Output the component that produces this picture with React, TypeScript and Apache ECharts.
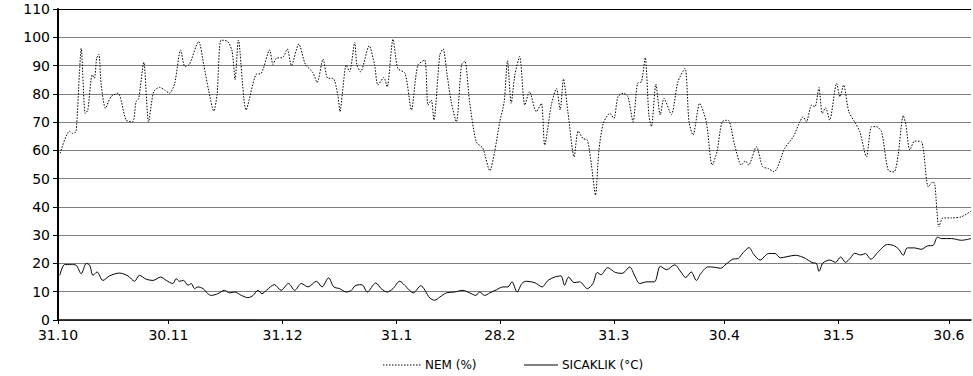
import React, { useEffect, useRef } from "react";
import * as echarts from "echarts";

// x positions are days counted from 31.10
const TICK_DAYS = [0, 30, 61, 92, 120, 151, 181, 212, 242];
const TICK_LABELS = ["31.10", "30.11", "31.12", "31.1", "28.2", "31.3", "30.4", "31.5", "30.6"];

const NEM_DAYS = [
  0.6, 3.1, 4, 4.9, 5.8, 6.3, 7.4, 8.1, 9.3, 9.9, 10.5, 11.1, 11.7, 12.9, 14.4, 16.3, 18.5, 20.3, 21.2, 21.9,
  23.3, 24.6, 26, 27.6, 29, 30.3, 31.7, 33.3, 34.5, 35.7, 38.2, 39.6, 40.9, 42.3, 43.2, 44.3, 46.1, 47.3, 48.1, 49,
  51.1, 53.8, 55.2, 57.5, 58.4, 59.3, 61.1, 62.3, 63.4, 65.4, 67.2, 69.2, 70.4, 72, 73.3, 74.7, 76, 76.6, 77.2, 78.3,
  79.2, 80.6, 81.2, 82.2, 84.5, 86, 86.9, 88.5, 89.4, 91, 92.3, 94.3, 96, 97.7, 99.6, 100.5, 101.4, 102.1, 103.7, 104.6,
  105.7, 106.8, 108.2, 109.6, 110.5, 111.8, 113.6, 115.4, 117.3, 118.6, 120, 121.2, 122.1, 123.1, 124.1, 125.4, 126.8, 128.1, 129.9, 131.3,
  132.2, 134, 135.4, 136.4, 137.3, 138.5, 140.2, 141.3, 142.6, 143.8, 144.9, 146, 146.9, 148.1, 149.9, 151, 152.1, 153.5, 154.8, 156.2,
  157.4, 158.5, 159.5, 160.5, 161.2, 162.4, 163.6, 164.6, 166.6, 168.4, 170.3, 171.4, 172.5, 174.3, 176.1, 177.7, 179, 180.4, 182, 183.8,
  185.6, 186.7, 187.6, 189.7, 191.4, 192.9, 194.5, 197.4, 199.7, 201.5, 202.4, 203.3, 204.7, 205.6, 206.7, 207.6, 208.5, 209.6, 211.5, 212.4,
  213.4, 214.8, 216.4, 217.8, 219.6, 221, 222.3, 223.7, 225.5, 227.1, 228.2, 229.6, 230.3, 231.4, 232.7, 234.6, 236.4, 237.7, 238.2, 239.3,
  240.4, 242.7, 245.4, 248
];
const NEM_VALUES = [
  59, 66.8, 66, 66.6, 87, 96.1, 73, 74.3, 86.7, 85.5, 92.6, 94, 83.7, 74.9, 79, 80.2, 70.7, 70.1, 77.2, 78.2,
  91.1, 70.1, 80.8, 82.3, 81.3, 80.2, 83.7, 95.5, 89.6, 90.4, 98.5, 90.2, 81.3, 73.9, 79.6, 99, 98.5, 95, 85, 99,
  74.3, 86.9, 87.2, 95.5, 90.4, 92.6, 92.9, 95.9, 90, 97.6, 90.4, 87.6, 84, 92.3, 85.5, 85.5, 79.6, 73.7, 79.6, 90.2,
  87.8, 98.2, 90.2, 87.8, 97, 90.2, 83.1, 85.8, 82.5, 99.3, 89, 87.2, 74.3, 90, 92, 76, 77.8, 70.7, 93.7, 95.9,
  86.7, 77.2, 70.1, 90.2, 91.6, 77.2, 63, 60.7, 52.8, 59.5, 70.1, 77.2, 91.7, 76.6, 86.7, 93.2, 76, 80.8, 73.7, 76.6,
  61.9, 76, 81.9, 74.3, 85.2, 73.7, 57.7, 66.8, 64.2, 63.6, 54.8, 44.2, 59.5, 69.5, 73.1, 71.3, 79, 80.2, 79, 70.1,
  83.7, 84.3, 92.8, 72.5, 68.4, 83.4, 72.5, 78.4, 72.7, 84.3, 89, 70.1, 65.4, 76.6, 70.1, 54.8, 59.5, 70.1, 70.7, 61.9,
  54.8, 56.3, 54.8, 61.3, 54.2, 53.6, 52.4, 60.7, 64.8, 70.1, 71.9, 70.1, 76, 75.4, 82.2, 73.1, 75.1, 70.7, 83.7, 79,
  83.1, 73.7, 70.1, 66.6, 57.7, 68.4, 68.4, 66.6, 53, 52.4, 58.3, 72.3, 69, 60.1, 63.3, 63, 47.1, 48.9, 47.7, 32.9,
  36.1, 36.1, 36.5, 38.5
];

const TEMP_DAYS = [
  0.5, 1.8, 3.6, 4.9, 6.3, 7.7, 8.6, 9.5, 10.6, 12.2, 14, 16.7, 19, 20.8, 22.1, 24, 25.8, 27.9, 29.4, 31.2,
  32.1, 33, 34.1, 35.3, 36.2, 37.1, 38, 39.4, 40.7, 41.6, 43.4, 45.2, 46.6, 48, 49.8, 51.6, 53, 54.3, 55.4, 56.6,
  58.8, 60.6, 62.6, 64.3, 66.1, 67.9, 70.2, 71.7, 73.5, 74.9, 76.5, 78.3, 79.7, 80.6, 81.9, 82.8, 84, 86.3, 87.8, 89.4,
  91, 92.8, 94.6, 96.5, 98.5, 101, 102.3, 103.7, 105.5, 107.7, 110, 111.8, 113.5, 114.5, 115.9, 117.3, 119.1, 120.9, 122.2, 123.3,
  124.7, 126, 127.2, 129.5, 131.5, 133.1, 134.9, 136.6, 137.6, 138.7, 140.2, 141.7, 143.8, 145.3, 146.5, 147.5, 149.3, 151.4, 153.2, 155.3,
  156.7, 158, 160, 162, 163.6, 165.3, 167.5, 169.2, 170.5, 172, 173.4, 174.6, 176.6, 178.6, 180, 181.5, 183.3, 184.8, 186.1, 187.7,
  189, 190.7, 193, 194.8, 196.2, 198, 200.3, 203, 204.8, 206, 206.7, 207.8, 209.6, 211.2, 212.6, 213.9, 215.3, 216.4, 218.1, 219.3,
  220.8, 222.8, 225.3, 226.9, 228.4, 229.6, 230.7, 232.7, 234.4, 236.2, 237.7, 238.9, 240, 242.7, 245.4, 248
];
const TEMP_VALUES = [
  15.8, 19.6, 19.6, 19.4, 16.4, 20, 19.4, 15.8, 17, 14, 15.6, 16.6, 15.6, 13.7, 15.8, 14.4, 14, 15.2, 14, 12.9,
  14.6, 13.7, 14, 12.3, 12.9, 11.1, 11.7, 11.1, 9.3, 8.7, 9.3, 10.5, 9.6, 9.9, 8.7, 7.9, 8.7, 10.5, 9.3, 10.5,
  12.5, 10.5, 12.9, 10.5, 12.9, 11.7, 13.7, 11.7, 14.9, 11.7, 11.1, 9.9, 10.5, 12, 12.5, 12.3, 9.9, 13.1, 11.1, 9.9,
  11.1, 13.7, 11.7, 9.6, 12.1, 7.8, 7, 8.1, 9.6, 9.9, 10.5, 9.6, 8.7, 9.9, 8.7, 9.6, 10.7, 11.7, 11.7, 13.5,
  9.9, 12.9, 13.7, 13.2, 11.7, 14, 15.2, 15.6, 12.3, 15.2, 13.2, 13.5, 11.1, 12.9, 16.8, 16, 18.5, 16.8, 16.5, 18.7,
  15.5, 12.9, 13.5, 13.5, 19, 17.8, 19.5, 17, 15, 17, 14, 16.4, 18.8, 18.6, 18.3, 19.8, 21.5, 21.8, 23.8, 25.6,
  23.2, 21.2, 23.5, 23.5, 22, 22.4, 22.9, 21.8, 20.3, 20, 17.2, 20.2, 21.2, 20.4, 22.3, 20.4, 22, 23.6, 23, 23.5,
  21.5, 24.1, 26.7, 26.4, 25, 22.9, 25.5, 25.5, 25, 26.2, 26.4, 29.3, 28.8, 28.8, 28.2, 28.8
];

const NEM_NAME = "NEM (%)";
const TEMP_NAME = "SICAKLIK (°C)";

const FONT = "'DejaVu Sans', Arial, sans-serif";

export default function App() {
  const ref = useRef<HTMLDivElement>(null);
  useEffect(() => {
    const chart = echarts.init(ref.current!, null, { renderer: "svg" });
    const nem = NEM_DAYS.map((d, i) => [d, NEM_VALUES[i]]);
    const temp = TEMP_DAYS.map((d, i) => [d, TEMP_VALUES[i]]);
    const splitColors: string[] = [];
    for (let i = 0; i < 11; i++) splitColors.push("#7f7f7f");
    splitColors.push("#000000");
    const legendY = 365;
    chart.setOption({
      animation: false,
      backgroundColor: "#ffffff",
      grid: { left: 58, right: 2, top: 9, bottom: 56, containLabel: false },
      xAxis: {
        type: "value",
        min: 0,
        max: 248,
        axisLine: { show: true, lineStyle: { color: "#000", width: 1.5 } },
        axisTick: { show: true, customValues: TICK_DAYS, length: 4, lineStyle: { color: "#000" } },
        axisLabel: {
          customValues: TICK_DAYS,
          formatter: (v: number) => {
            const idx = TICK_DAYS.indexOf(Math.round(v));
            return idx >= 0 ? TICK_LABELS[idx] : "";
          },
          color: "#000",
          fontSize: 14,
          fontFamily: FONT,
          margin: 8,
        },
        splitLine: { show: false },
      },
      yAxis: {
        type: "value",
        min: 0,
        max: 110,
        interval: 10,
        axisLine: { show: true, lineStyle: { color: "#000", width: 2 } },
        axisTick: { show: true, length: 5, lineStyle: { color: "#000" } },
        axisLabel: { color: "#000", fontSize: 14, fontFamily: FONT, margin: 8 },
        splitLine: { show: true, lineStyle: { color: splitColors, width: 1 } },
      },
      graphic: [
        {
          type: "line",
          shape: { x1: 383, y1: legendY, x2: 422, y2: legendY },
          style: { stroke: "#000", lineWidth: 1, lineDash: [1.5, 1.5] },
        },
        {
          type: "text",
          x: 425,
          y: legendY,
          style: { text: NEM_NAME, fill: "#000", font: "12px " + FONT, textVerticalAlign: "middle", verticalAlign: "middle" },
        },
        {
          type: "line",
          shape: { x1: 524, y1: legendY, x2: 558, y2: legendY },
          style: { stroke: "#000", lineWidth: 1 },
        },
        {
          type: "text",
          x: 562,
          y: legendY,
          style: { text: TEMP_NAME, fill: "#000", font: "12px " + FONT, verticalAlign: "middle" },
        },
      ],
      series: [
        {
          name: NEM_NAME,
          type: "line",
          data: nem,
          smooth: 0.25,
          symbol: "none",
          lineStyle: { color: "#000", width: 1, type: [1.5, 1.5] },
          itemStyle: { color: "#000" },
        },
        {
          name: TEMP_NAME,
          type: "line",
          data: temp,
          smooth: 0.3,
          symbol: "none",
          lineStyle: { color: "#000", width: 1, type: "solid" },
          itemStyle: { color: "#000" },
        },
      ],
    });
    return () => chart.dispose();
  }, []);
  return (
    <div
      ref={ref}
      style={{ position: "absolute", left: 0, top: 0, width: 973, height: 376 }}
    />
  );
}
